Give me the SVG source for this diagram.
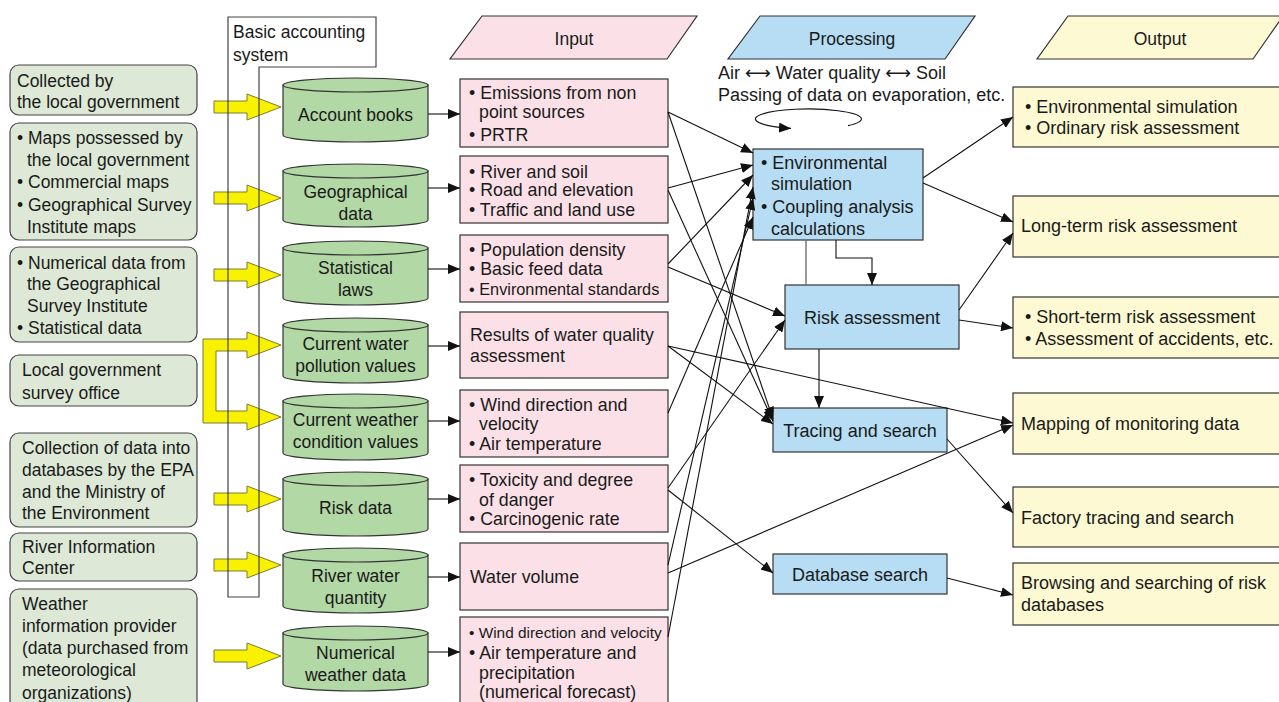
<svg xmlns="http://www.w3.org/2000/svg" width="1279" height="702" viewBox="0 0 1279 702">
<defs>
<marker id="ah" markerUnits="userSpaceOnUse" markerWidth="12" markerHeight="10" refX="12" refY="5" orient="auto"><path d="M0,0 L12,5 L0,10 Z" fill="#111"/></marker>
<style>
text{font-family:"Liberation Sans",Arial,sans-serif;font-size:17.5px;fill:#1a1a1a}
.r text{font-size:18px}
.i text{font-size:17.8px}
.src{fill:#dde9d6;stroke:#444;stroke-width:1.2}
.cyl{fill:#b2d8a6;stroke:#333;stroke-width:1.2}
.inp{fill:#fbe1e7;stroke:#333;stroke-width:1.2}
.prc{fill:#b6ddf3;stroke:#333;stroke-width:1.2}
.out{fill:#fdf9d3;stroke:#333;stroke-width:1.2}
.ya{fill:#f8f200;stroke:#7d7a30;stroke-width:1}
.c{stroke:#111;stroke-width:1.1;fill:none;marker-end:url(#ah)}
.m{text-anchor:middle}
.arr{font-family:"DejaVu Sans",sans-serif}
</style>
</defs>
<rect width="1279" height="702" fill="#fff"/>

<!-- Source boxes -->
<g id="src1"><rect class="src" x="10" y="65" width="187" height="50" rx="9"/><text x="17" y="87">Collected by</text><text x="17" y="108">the local government</text></g>
<g id="src2"><rect class="src" x="10" y="123" width="187" height="117" rx="9"/><text x="17" y="144">• Maps possessed by</text><text x="27" y="166">the local government</text><text x="17" y="188">• Commercial maps</text><text x="17" y="211">• Geographical Survey</text><text x="27" y="233">Institute maps</text></g>
<g id="src3"><rect class="src" x="10" y="247" width="187" height="95" rx="9"/><text x="17" y="269">• Numerical data from</text><text x="27" y="290">the Geographical</text><text x="27" y="312">Survey Institute</text><text x="17" y="334">• Statistical data</text></g>
<g id="src4"><rect class="src" x="10" y="355" width="187" height="51" rx="9"/><text x="22" y="376">Local government</text><text x="22" y="399">survey office</text></g>
<g id="src5"><rect class="src" x="10" y="433" width="187" height="94" rx="9"/><text x="22" y="454">Collection of data into</text><text x="22" y="476">databases by the EPA</text><text x="22" y="498">and the Ministry of</text><text x="22" y="519">the Environment</text></g>
<g id="src6"><rect class="src" x="10" y="533" width="187" height="48" rx="9"/><text x="22" y="553">River Information</text><text x="22" y="574">Center</text></g>
<g id="src7"><rect class="src" x="10" y="589" width="187" height="130" rx="9"/><text x="22" y="610">Weather</text><text x="22" y="632">information provider</text><text x="22" y="654">(data purchased from</text><text x="22" y="676">meteorological</text><text x="22" y="699">organizations)</text></g>

<!-- Yellow arrows -->
<g id="yellow-arrows">
<path class="ya" d="M214,101 H247 V94 L281,107 L247,120 V113 H214 Z"/>
<path class="ya" d="M214,192 H247 V185 L281,198 L247,211 V204 H214 Z"/>
<path class="ya" d="M214,269 H247 V262 L281,275 L247,288 V281 H214 Z"/>
<path class="ya" d="M203,339 H247 V332 L281,345 L247,358 V351 H216 V411 H247 V404 L281,417 L247,430 V423 H203 Z"/>
<path class="ya" d="M214,493 H247 V486 L281,499 L247,512 V505 H214 Z"/>
<path class="ya" d="M214,559 H247 V552 L281,565 L247,578 V571 H214 Z"/>
<path class="ya" d="M214,650 H247 V643 L281,656 L247,669 V662 H214 Z"/>
</g>

<!-- Basic accounting system -->
<g id="basic-accounting"><polygon points="228,17 376,17 376,67 259,67 259,597 228,597" fill="none" stroke="#444" stroke-width="1.2"/><text x="233" y="38">Basic accounting</text><text x="233" y="61">system</text></g>

<!-- Cylinders -->
<g id="cyl1"><path class="cyl" d="M283,85 V135 A72.5,7 0 0 0 428,135 V85 Z"/><ellipse class="cyl" cx="355.5" cy="85" rx="72.5" ry="7"/><text class="m" x="355.5" y="121">Account books</text></g>
<g id="cyl2"><path class="cyl" d="M283,171 V220 A72.5,7 0 0 0 428,220 V171 Z"/><ellipse class="cyl" cx="355.5" cy="171" rx="72.5" ry="7"/><text class="m" x="355.5" y="198">Geographical</text><text class="m" x="355.5" y="220">data</text></g>
<g id="cyl3"><path class="cyl" d="M283,248 V298 A72.5,7 0 0 0 428,298 V248 Z"/><ellipse class="cyl" cx="355.5" cy="248" rx="72.5" ry="7"/><text class="m" x="355.5" y="274">Statistical</text><text class="m" x="355.5" y="296">laws</text></g>
<g id="cyl4"><path class="cyl" d="M283,325 V376 A72.5,7 0 0 0 428,376 V325 Z"/><ellipse class="cyl" cx="355.5" cy="325" rx="72.5" ry="7"/><text class="m" x="355.5" y="350">Current water</text><text class="m" x="355.5" y="372">pollution values</text></g>
<g id="cyl5"><path class="cyl" d="M283,401 V453 A72.5,7 0 0 0 428,453 V401 Z"/><ellipse class="cyl" cx="355.5" cy="401" rx="72.5" ry="7"/><text class="m" x="355.5" y="426">Current weather</text><text class="m" x="355.5" y="448">condition values</text></g>
<g id="cyl6"><path class="cyl" d="M283,479 V529 A72.5,7 0 0 0 428,529 V479 Z"/><ellipse class="cyl" cx="355.5" cy="479" rx="72.5" ry="7"/><text class="m" x="355.5" y="514">Risk data</text></g>
<g id="cyl7"><path class="cyl" d="M283,555 V606 A72.5,7 0 0 0 428,606 V555 Z"/><ellipse class="cyl" cx="355.5" cy="555" rx="72.5" ry="7"/><text class="m" x="355.5" y="582">River water</text><text class="m" x="355.5" y="604">quantity</text></g>
<g id="cyl8"><path class="cyl" d="M283,633 V684 A72.5,7 0 0 0 428,684 V633 Z"/><ellipse class="cyl" cx="355.5" cy="633" rx="72.5" ry="7"/><text class="m" x="355.5" y="659">Numerical</text><text class="m" x="355.5" y="681">weather data</text></g>

<!-- Headers -->
<g id="hdr-input"><polygon points="482,16 697,16 667,59 450,59" fill="#fbe1e7" stroke="#333" stroke-width="1.2"/><text class="m" x="574" y="45">Input</text></g>
<g id="hdr-processing"><polygon points="760,16 975,16 945,59 728,59" fill="#b6ddf3" stroke="#333" stroke-width="1.2"/><text class="m" x="852" y="45">Processing</text></g>
<g id="hdr-output"><polygon points="1068,16 1283,16 1253,59 1037,59" fill="#fdf9d3" stroke="#333" stroke-width="1.2"/><text class="m" x="1160" y="45">Output</text></g>

<!-- Input boxes -->
<g class="i">
<g id="inA"><rect class="inp" x="460" y="79" width="208" height="68"/><text x="469" y="99">• Emissions from non</text><text x="479" y="118">point sources</text><text x="469" y="141">• PRTR</text></g>
<g id="inB"><rect class="inp" x="460" y="156" width="208" height="67"/><text x="469" y="178">• River and soil</text><text x="469" y="196">• Road and elevation</text><text x="469" y="216">• Traffic and land use</text></g>
<g id="inC"><rect class="inp" x="460" y="235" width="208" height="67"/><text x="469" y="256">• Population density</text><text x="469" y="275">• Basic feed data</text><text x="469" y="295" style="font-size:16.3px">• Environmental standards</text></g>
<g id="inD"><rect class="inp" x="460" y="312" width="208" height="66"/><text x="470" y="341">Results of water quality</text><text x="470" y="362">assessment</text></g>
<g id="inE"><rect class="inp" x="460" y="390" width="208" height="67"/><text x="469" y="411">• Wind direction and</text><text x="479" y="430">velocity</text><text x="469" y="450">• Air temperature</text></g>
<g id="inF"><rect class="inp" x="460" y="465" width="208" height="67"/><text x="469" y="486">• Toxicity and degree</text><text x="479" y="506">of danger</text><text x="469" y="525">• Carcinogenic rate</text></g>
<g id="inG"><rect class="inp" x="460" y="543" width="208" height="67"/><text x="470" y="583">Water volume</text></g>
<g id="inH"><rect class="inp" x="460" y="617" width="208" height="100"/><text x="469" y="638" style="font-size:15.4px">• Wind direction and velocity</text><text x="469" y="659">• Air temperature and</text><text x="479" y="679">precipitation</text><text x="479" y="698">(numerical forecast)</text></g>
</g>

<!-- Processing -->
<g class="r">
<g id="proc-note"><text x="718" y="79">Air <tspan class="arr">⟷</tspan> Water quality <tspan class="arr">⟷</tspan> Soil</text><text x="718" y="101">Passing of data on evaporation, etc.</text><path class="c" d="M848,125.6 A53,10 0 1 0 791,128.4"/></g>
<g id="envsim"><rect class="prc" x="753" y="149" width="170" height="91"/><text x="761" y="169">• Environmental</text><text x="771" y="190">simulation</text><text x="761" y="213">• Coupling analysis</text><text x="771" y="235">calculations</text></g>
<g id="risk"><rect class="prc" x="785" y="285" width="174" height="64"/><text class="m" x="872" y="324">Risk assessment</text></g>
<g id="trace"><rect class="prc" x="773" y="408" width="174" height="44"/><text class="m" x="860" y="437">Tracing and search</text></g>
<g id="dbsearch"><rect class="prc" x="773" y="554" width="174" height="40"/><text class="m" x="860" y="581">Database search</text></g>

<!-- Outputs -->
<g id="out1"><rect class="out" x="1013" y="87" width="275" height="60"/><text x="1025" y="113">• Environmental simulation</text><text x="1025" y="134">• Ordinary risk assessment</text></g>
<g id="out2"><rect class="out" x="1013" y="196" width="275" height="61"/><text x="1021" y="232">Long-term risk assessment</text></g>
<g id="out3"><rect class="out" x="1013" y="297" width="275" height="61"/><text x="1025" y="323">• Short-term risk assessment</text><text x="1025" y="345">• Assessment of accidents, etc.</text></g>
<g id="out4"><rect class="out" x="1013" y="393" width="275" height="61"/><text x="1021" y="430">Mapping of monitoring data</text></g>
<g id="out5"><rect class="out" x="1013" y="487" width="275" height="60"/><text x="1021" y="524">Factory tracing and search</text></g>
<g id="out6"><rect class="out" x="1013" y="563" width="275" height="62"/><text x="1021" y="589">Browsing and searching of risk</text><text x="1021" y="611">databases</text></g>
</g>

<!-- Connectors -->
<g id="connectors">
<path class="c" d="M428,114 H460"/>
<path class="c" d="M428,188 H460"/>
<path class="c" d="M428,269 H460"/>
<path class="c" d="M428,346 H460"/>
<path class="c" d="M428,421 H460"/>
<path class="c" d="M428,499 H460"/>
<path class="c" d="M428,577 H460"/>
<path class="c" d="M428,652 H460"/>

<path class="c" d="M668,112 L753,153"/>
<path class="c" d="M668,112 L773,419"/>
<path class="c" d="M668,188 L753,165"/>
<path class="c" d="M668,190 L773,421"/>
<path class="c" d="M668,264 L753,175"/>
<path class="c" d="M668,267 L785,316"/>
<path class="c" d="M668,346 L773,424"/>
<path class="c" d="M668,346 L1013,423"/>
<path class="c" d="M668,413 L753,217"/>
<path class="c" d="M668,488 L785,320"/>
<path class="c" d="M668,490 L773,573"/>
<path class="c" d="M668,565 L753,198"/>
<path class="c" d="M668,573 L1013,425"/>
<path class="c" d="M668,637 L753,187"/>

<path class="c" d="M923,178 L1013,117"/>
<path class="c" d="M923,183 L1013,222"/>
<path class="c" d="M959,310 L1013,233"/>
<path class="c" d="M959,320 L1013,328"/>
<path class="c" d="M947,439 L1013,513"/>
<path class="c" d="M947,578 L1013,595"/>
<path d="M806,240 V285" stroke="#666" stroke-width="1.3" fill="none"/>
<path class="c" d="M836,240 V258 H872 V285"/>
<path class="c" d="M819,349 V408"/>
</g>
</svg>
